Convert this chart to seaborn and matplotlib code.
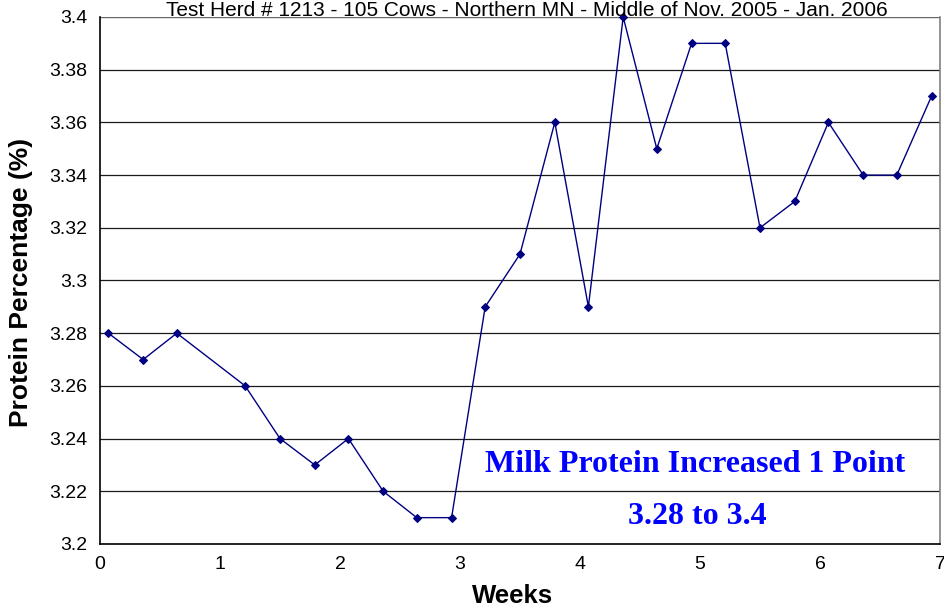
import matplotlib.pyplot as plt
import pandas as pd
import seaborn as sns

# Data
weeks = [0.07, 0.36, 0.64, 1.21, 1.50, 1.79, 2.07, 2.36, 2.64, 2.93, 3.21, 3.50,
         3.79, 4.07, 4.36, 4.64, 4.93, 5.21, 5.50, 5.79, 6.07, 6.36, 6.64, 6.93]
protein = [3.28, 3.27, 3.28, 3.26, 3.24, 3.23, 3.24, 3.22, 3.21, 3.21, 3.29, 3.31,
           3.36, 3.29, 3.40, 3.35, 3.39, 3.39, 3.32, 3.33, 3.36, 3.34, 3.34, 3.37]
y_ticks = [3.2, 3.22, 3.24, 3.26, 3.28, 3.3, 3.32, 3.34, 3.36, 3.38, 3.4]
y_tick_labels = ["3.2", "3.22", "3.24", "3.26", "3.28", "3.3", "3.32", "3.34", "3.36", "3.38", "3.4"]
x_ticks = [0, 1, 2, 3, 4, 5, 6, 7]

title = "Test Herd # 1213 - 105 Cows - Northern MN - Middle of Nov. 2005 - Jan. 2006"

df = pd.DataFrame({"weeks": weeks, "protein": protein})

sns.set_style("white")
plt.rcParams["font.family"] = ["Liberation Sans", "DejaVu Sans"]
plt.rcParams["text.color"] = "black"
plt.rcParams["axes.labelcolor"] = "black"

fig = plt.figure(figsize=(9.45, 6.07), dpi=100)
ax = fig.add_axes([0.1058, 0.1038, 0.8889, 0.8682])

# Horizontal grid lines
for y in y_ticks[1:-1]:
    ax.axhline(y, color="#1a1a1a", linewidth=0.9, zorder=0)
ax.axhline(y_ticks[-1], color="#666666", linewidth=1.0, zorder=0)

sns.lineplot(data=df, x="weeks", y="protein", ax=ax, color="#000080",
             linewidth=1, marker="D", markersize=4.5, markeredgecolor="#000080",
             clip_on=False, zorder=3)

ax.set_xlim(0, 7)
ax.set_ylim(3.2, 3.4)
ax.set_xticks(x_ticks)
ax.set_xticklabels([str(x) for x in x_ticks])
ax.set_yticks(y_ticks)
ax.set_yticklabels(y_tick_labels)
ax.tick_params(axis="both", labelsize=14, colors="black", length=5, width=1,
               direction="out", pad=4)

for side in ["left", "bottom"]:
    ax.spines[side].set_color("black")
    ax.spines[side].set_linewidth(1.2)
ax.spines["right"].set_color("#808080")
ax.spines["right"].set_linewidth(1.2)
ax.spines["top"].set_visible(False)

ax.set_xlabel("Weeks", fontsize=18.5, fontweight="bold")
ax.set_ylabel("Protein Percentage (%)", fontsize=19, fontweight="bold")
ax.xaxis.set_label_coords((513 - 100) / 840, -(596 - 544) / 527)
ax.yaxis.set_label_coords(-(100 - 21) / 840, (544 - 282) / 527)
ax.xaxis.label.set_va("center")
ax.yaxis.label.set_va("center")

fig.text(527 / 945, 1 - 15.5 / 607, title, ha="center", va="baseline", fontsize=15)

ax.text(4.96, 3.230, "Milk Protein Increased 1 Point", ha="center", va="center",
        fontsize=23, fontweight="bold", color="#0000FF", family=["Liberation Serif"])
ax.text(4.98, 3.2106, "3.28 to 3.4", ha="center", va="center",
        fontsize=23, fontweight="bold", color="#0000FF", family=["Liberation Serif"])

fig.savefig("out.png", dpi=100)
